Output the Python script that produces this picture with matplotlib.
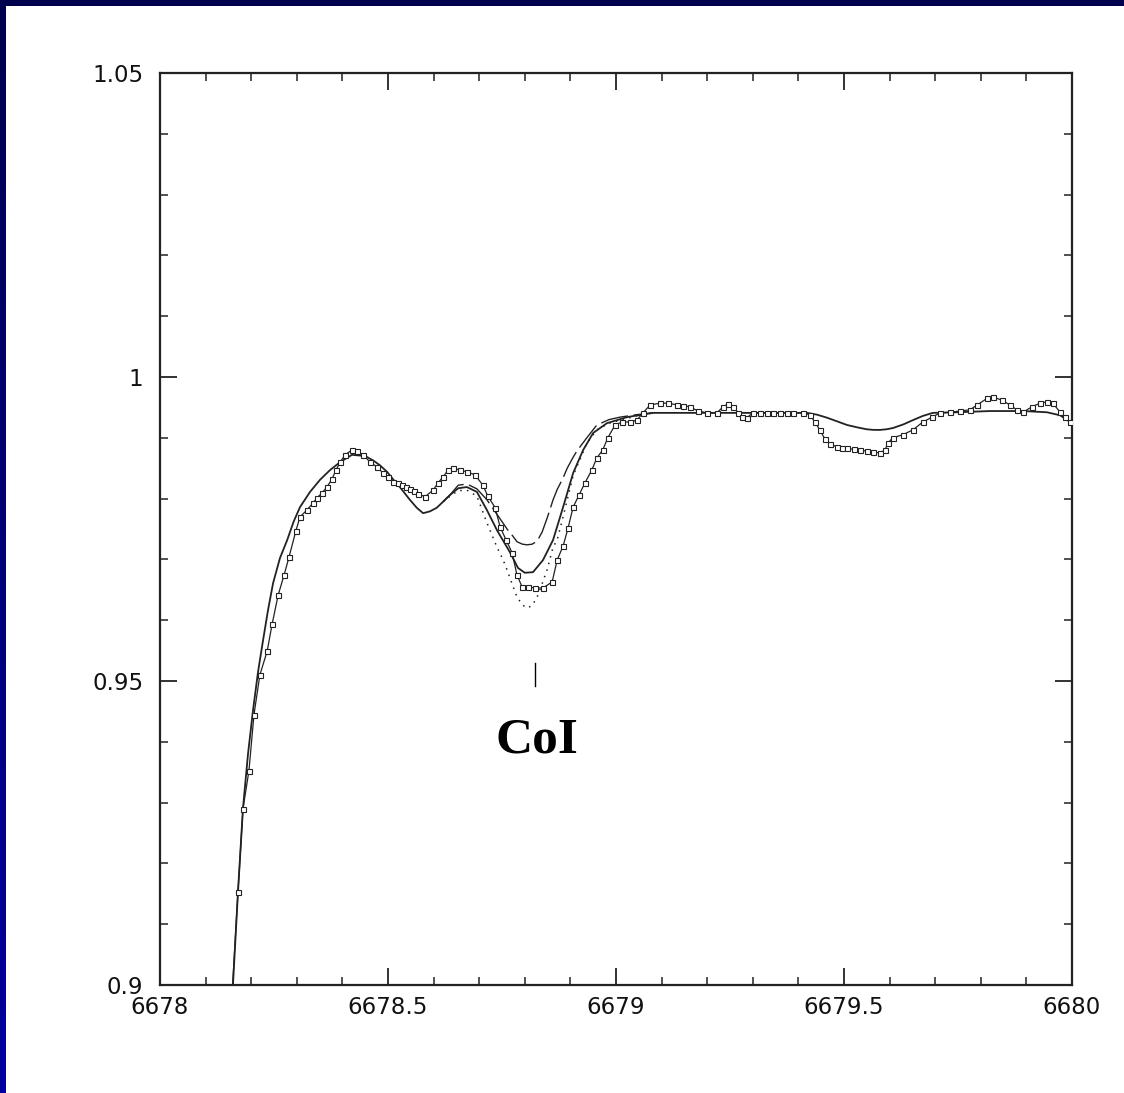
import numpy as np
import matplotlib
matplotlib.use("Agg")
import matplotlib.pyplot as plt
from matplotlib.ticker import MultipleLocator, FixedLocator, FixedFormatter

# ---------------- data ----------------
# observed spectrum (wavelength, normalised flux)
obs_x = [6678.158, 6678.171, 6678.182, 6678.195, 6678.206, 6678.219, 6678.235, 6678.246,
         6678.259, 6678.272, 6678.283, 6678.298, 6678.307, 6678.322, 6678.336, 6678.344,
         6678.355, 6678.366, 6678.377, 6678.386, 6678.395, 6678.406, 6678.421, 6678.432,
         6678.445, 6678.461, 6678.476, 6678.489, 6678.500, 6678.511, 6678.521, 6678.531,
         6678.540, 6678.548, 6678.557, 6678.566, 6678.581, 6678.599, 6678.610, 6678.621,
         6678.632, 6678.643, 6678.658, 6678.673, 6678.691, 6678.708, 6678.719, 6678.735,
         6678.746, 6678.759, 6678.772, 6678.783, 6678.794, 6678.807, 6678.822, 6678.840,
         6678.860, 6678.871, 6678.884, 6678.895, 6678.906, 6678.919, 6678.932, 6678.947,
         6678.958, 6678.971, 6678.982, 6678.998, 6679.013, 6679.031, 6679.046, 6679.059,
         6679.075, 6679.096, 6679.114, 6679.134, 6679.148, 6679.162, 6679.180, 6679.200,
         6679.221, 6679.235, 6679.246, 6679.257, 6679.268, 6679.276, 6679.287, 6679.300,
         6679.315, 6679.331, 6679.345, 6679.360, 6679.374, 6679.388, 6679.410, 6679.425,
         6679.436, 6679.447, 6679.458, 6679.469, 6679.485, 6679.496, 6679.507, 6679.521,
         6679.535, 6679.550, 6679.564, 6679.579, 6679.590, 6679.596, 6679.607, 6679.629,
         6679.651, 6679.673, 6679.693, 6679.711, 6679.732, 6679.754, 6679.776, 6679.792,
         6679.814, 6679.827, 6679.846, 6679.864, 6679.879, 6679.893, 6679.912, 6679.930,
         6679.945, 6679.958, 6679.974, 6679.985, 6679.996]
obs_y = [0.8984, 0.9153, 0.9290, 0.9352, 0.9444, 0.9510, 0.9549, 0.9594,
         0.9641, 0.9674, 0.9704, 0.9747, 0.9770, 0.9781, 0.9793, 0.9801,
         0.9809, 0.9819, 0.9832, 0.9847, 0.9860, 0.9872, 0.9880, 0.9878,
         0.9872, 0.9860, 0.9852, 0.9842, 0.9835, 0.9827, 0.9825, 0.9822,
         0.9819, 0.9816, 0.9812, 0.9808, 0.9803, 0.9814, 0.9826, 0.9836,
         0.9847, 0.9850, 0.9847, 0.9844, 0.9839, 0.9822, 0.9804, 0.9785,
         0.9753, 0.9732, 0.9711, 0.9674, 0.9655, 0.9655, 0.9653, 0.9653,
         0.9663, 0.9699, 0.9722, 0.9752, 0.9786, 0.9806, 0.9826, 0.9847,
         0.9867, 0.9880, 0.9900, 0.9921, 0.9926, 0.9926, 0.9929, 0.9941,
         0.9954, 0.9957, 0.9957, 0.9954, 0.9953, 0.9951, 0.9944, 0.9941,
         0.9941, 0.9951, 0.9956, 0.9951, 0.9941, 0.9934, 0.9933, 0.9941,
         0.9941, 0.9941, 0.9941, 0.9941, 0.9941, 0.9941, 0.9941, 0.9938,
         0.9926, 0.9913, 0.9898, 0.9890, 0.9885, 0.9884, 0.9883, 0.9881,
         0.9880, 0.9878, 0.9877, 0.9875, 0.9880, 0.9891, 0.9900, 0.9905,
         0.9913, 0.9926, 0.9934, 0.9941, 0.9942, 0.9944, 0.9946, 0.9954,
         0.9965, 0.9967, 0.9962, 0.9954, 0.9946, 0.9942, 0.9951, 0.9957,
         0.9959, 0.9957, 0.9942, 0.9934, 0.9926]

# synthetic spectrum (solid) over the full range
model_x = [6678.158, 6678.160, 6678.171, 6678.182, 6678.193, 6678.204, 6678.215, 6678.226,
           6678.237, 6678.248, 6678.263, 6678.279, 6678.293, 6678.307, 6678.329, 6678.351,
           6678.373, 6678.395, 6678.421, 6678.450, 6678.467, 6678.482, 6678.498, 6678.512,
           6678.526, 6678.548, 6678.563, 6678.577, 6678.592, 6678.607, 6678.621, 6678.636,
           6678.654, 6678.673, 6678.695, 6678.717, 6678.739, 6678.768, 6678.785, 6678.800,
           6678.818, 6678.840, 6678.862, 6678.884, 6678.906, 6678.928, 6678.950, 6678.980,
           6679.024, 6679.081, 6679.125, 6679.272, 6679.419, 6679.441, 6679.463, 6679.485,
           6679.507, 6679.530, 6679.550, 6679.565, 6679.579, 6679.593, 6679.607, 6679.630,
           6679.651, 6679.673, 6679.695, 6679.748, 6679.820, 6679.893, 6679.945, 6679.974,
           6680.000]
model_y = [0.8984, 0.9000, 0.9153, 0.9291, 0.9380, 0.9452, 0.9515, 0.9567,
           0.9617, 0.9661, 0.9702, 0.9732, 0.9762, 0.9786, 0.9811, 0.9831,
           0.9847, 0.9860, 0.9872, 0.9870, 0.9863, 0.9855, 0.9844, 0.9831,
           0.9819, 0.9798, 0.9785, 0.9776, 0.9779, 0.9785, 0.9795, 0.9806,
           0.9817, 0.9819, 0.9811, 0.9781, 0.9748, 0.9711, 0.9686, 0.9678,
           0.9679, 0.9699, 0.9732, 0.9786, 0.9842, 0.9880, 0.9908, 0.9924,
           0.9934, 0.9941, 0.9941, 0.9941, 0.9941, 0.9938, 0.9933, 0.9927,
           0.9921, 0.9917, 0.9914, 0.9913, 0.9913, 0.9914, 0.9916, 0.9922,
           0.9929, 0.9936, 0.9941, 0.9942, 0.9944, 0.9944, 0.9942, 0.9937,
           0.9924]

# alternative syntheses around the Co I line
alt_x = [6678.621, 6678.636, 6678.654, 6678.673, 6678.695, 6678.717, 6678.739, 6678.752,
         6678.761, 6678.772, 6678.783, 6678.795, 6678.805, 6678.816, 6678.827, 6678.838,
         6678.849, 6678.862, 6678.871, 6678.884, 6678.893, 6678.906, 6678.914, 6678.936,
         6678.958, 6678.985, 6679.009, 6679.045, 6679.081]
dashed_y = [0.9795, 0.9806, 0.9822, 0.9824, 0.9816, 0.9798, 0.9774, 0.9760,
            0.9750, 0.9740, 0.9729, 0.9725, 0.9724, 0.9725, 0.9730, 0.9745,
            0.9768, 0.9798, 0.9815, 0.9834, 0.9850, 0.9868, 0.9878, 0.9900,
            0.9921, 0.9930, 0.9934, 0.9938, 0.9941]
dotted_y = [0.9795, 0.9804, 0.9813, 0.9814, 0.9804, 0.9760, 0.9720, 0.9700,
            0.9683, 0.9660, 0.9638, 0.9625, 0.9620, 0.9624, 0.9638, 0.9660,
            0.9683, 0.9720, 0.9732, 0.9770, 0.9798, 0.9838, 0.9852, 0.9891,
            0.9913, 0.9924, 0.9929, 0.9936, 0.9941]

xticks = [6678, 6678.5, 6679, 6679.5, 6680]
xtick_labels = ["6678", "6678.5", "6679", "6679.5", "6680"]
yticks = [0.9, 0.95, 1.0, 1.05]
ytick_labels = ["0.9", "0.95", "1", "1.05"]
line_label = "CoI"
line_wave = 6678.822

# ---------------- figure ----------------
W, H = 1124, 1093
fig = plt.figure(figsize=(W / 100, H / 100), dpi=100)
fig.patch.set_facecolor("white")

# navy frame strips (top and left)
top = fig.add_axes([0, 1 - 6 / H, 1, 6 / H])
top.set_facecolor("#00004f")
top.set_axis_off()
top.add_patch(plt.Rectangle((0, 0), 1, 1, transform=top.transAxes, color="#00004f"))
left = fig.add_axes([0, 0, 6 / W, 1 - 6 / H])
left.set_axis_off()
grad = np.linspace(0, 1, 256).reshape(-1, 1)
from matplotlib.colors import LinearSegmentedColormap
cmap = LinearSegmentedColormap.from_list("nv", ["#0000a0", "#00004f"])
left.imshow(grad, aspect="auto", cmap=cmap, origin="lower", extent=[0, 1, 0, 1])

ax = fig.add_axes([160 / W, (H - 985) / H, 912 / W, 912 / H])
ax.set_xlim(6678, 6680)
ax.set_ylim(0.9, 1.05)

ink = "#222222"
ax.plot(model_x, model_y, color=ink, lw=1.3, zorder=3)
ax.plot(alt_x, dashed_y, color=ink, lw=1.0, ls=(0, (20, 4)), zorder=3)
ax.plot(alt_x, dotted_y, color=ink, lw=1.1, ls=(0, (1, 3.5)), zorder=3)
ax.plot(obs_x, obs_y, color=ink, lw=0.9, marker="s", ms=3.6, mfc="white",
        mec=ink, mew=0.8, zorder=4)

# line identification
ax.plot([line_wave, line_wave], [0.9492, 0.9530], color="black", lw=1.0)
ax.text(line_wave + 0.004, 0.9382, line_label, ha="center", va="baseline",
        fontsize=37, fontweight="bold", family=["Liberation Serif", "DejaVu Serif"],
        color="black")

# axes styling
for s in ax.spines.values():
    s.set_linewidth(1.6)
    s.set_color(ink)
ax.xaxis.set_major_locator(FixedLocator(xticks))
ax.xaxis.set_major_formatter(FixedFormatter(xtick_labels))
ax.yaxis.set_major_locator(FixedLocator(yticks))
ax.yaxis.set_major_formatter(FixedFormatter(ytick_labels))
ax.xaxis.set_minor_locator(MultipleLocator(0.1))
ax.yaxis.set_minor_locator(MultipleLocator(0.01))
ax.tick_params(which="both", direction="in", top=True, right=True, color=ink,
               labelcolor="#111111", labelsize=16.5)
ax.tick_params(which="major", length=12, width=1.3)
ax.tick_params(which="minor", length=6, width=1.1)
ax.tick_params(axis="x", which="major", pad=8)
ax.tick_params(axis="y", which="major", pad=12)

fig.savefig("out.png", dpi=100, facecolor="white")
